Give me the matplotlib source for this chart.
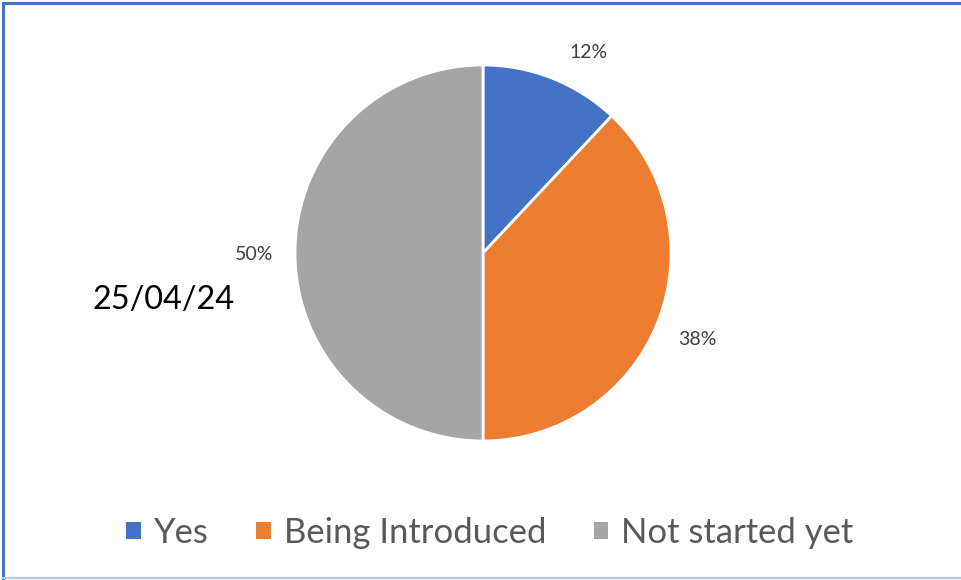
import matplotlib
matplotlib.use("Agg")
import matplotlib.pyplot as plt
from matplotlib.patches import Patch
from matplotlib.lines import Line2D

categories = ["Yes", "Being Introduced", "Not started yet"]
shares = [12, 38, 50]
colors = ["#4472C4", "#ED7D31", "#A5A5A5"]
date_label = "25/04/24"

# data-label anchor points, in units of the pie radius
label_xy = [(0.56, 1.065), (1.14, -0.46), (-1.215, -0.01)]

plt.rcParams["font.family"] = ["Lato", "DejaVu Sans"]

W, H = 961, 580
fig = plt.figure(figsize=(W / 100, H / 100), dpi=100)

# pie axes: centre (483, 253) px, radius 188 px
cx, cy, r = 483, 253, 188
ax = fig.add_axes([(cx - r) / W, (H - cy - r) / H, 2 * r / W, 2 * r / H])
wedges, texts, autotexts = ax.pie(
    shares, colors=colors, startangle=90, counterclock=False,
    autopct="%1.0f%%", pctdistance=1.21,
    wedgeprops=dict(edgecolor="white", linewidth=2),
    textprops=dict(color="#404040", fontsize=14),
)
for t, xy in zip(autotexts, label_xy):
    t.set_position(xy)
ax.set_xlim(-1, 1)
ax.set_ylim(-1, 1)
ax.set_aspect("equal")
ax.axis("off")

fig.text(92 / W, 1 - 300 / H, date_label, fontsize=23.3, color="black",
         ha="left", va="center")

handles = [Patch(facecolor=c, edgecolor="none") for c in colors]
fig.legend(handles, categories, loc="center", ncol=3,
           bbox_to_anchor=(490 / W, 1 - 533 / H), frameon=False,
           fontsize=24.9, labelcolor="#595959",
           handlelength=0.41, handleheight=0.41, handletextpad=0.38,
           columnspacing=1.38, borderpad=0, borderaxespad=0)

# chart border
fig.add_artist(Line2D([3 / W, 3 / W], [2 / H, 1 - 3 / H], color="#4472C4", lw=2.2,
                      transform=fig.transFigure))
fig.add_artist(Line2D([3 / W, 1], [1 - 3 / H, 1 - 3 / H], color="#4472C4", lw=2.2,
                      transform=fig.transFigure))
fig.add_artist(Line2D([3 / W, 1], [2 / H, 2 / H], color="#B4C7E7", lw=1.5,
                      transform=fig.transFigure))

fig.savefig("out.png", dpi=100)
